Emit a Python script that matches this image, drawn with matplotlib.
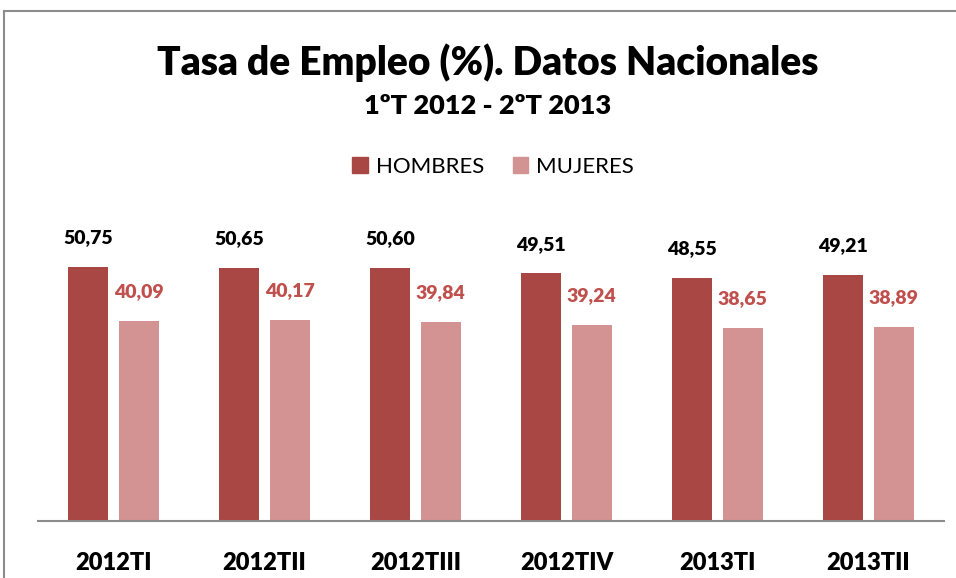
import matplotlib
matplotlib.use("Agg")
import matplotlib.pyplot as plt
from matplotlib.lines import Line2D
from matplotlib.patches import Rectangle
import numpy as np

categories = ["2012TI", "2012TII", "2012TIII", "2012TIV", "2013TI", "2013TII"]
hombres = [50.75, 50.65, 50.60, 49.51, 48.55, 49.21]
mujeres = [40.09, 40.17, 39.84, 39.24, 38.65, 38.89]
series_names = ["HOMBRES", "MUJERES"]

c_h = "#A94744"
c_m = "#D39393"
c_lab_m = "#C0504D"
FONT = "Lato"

W, H = 956, 578
fig = plt.figure(figsize=(W / 100, H / 100), dpi=100)
fig.patch.set_facecolor("white")

def fx(px):
    return px / W

def fy(py):
    return 1 - py / H

# frame lines (top and left)
fig.add_artist(Line2D([fx(4), fx(956)], [fy(11), fy(11)], color="#8C8C8C", lw=1.5))
fig.add_artist(Line2D([fx(4), fx(4)], [fy(11), fy(578)], color="#8C8C8C", lw=1.5))

ax_left, ax_right = 38, 944
ax_bottom, ax_top = 521, 221
ax = fig.add_axes([fx(ax_left), fy(ax_bottom), fx(ax_right - ax_left), (ax_bottom - ax_top) / H])
x = np.arange(len(categories))
bw = 0.265
off = 0.166
ax.bar(x - off, hombres, bw, color=c_h)
ax.bar(x + off, mujeres, bw, color=c_m)
ax.set_xlim(-0.5, len(categories) - 0.5)
ax.set_ylim(0, 60)
for s in ["top", "right", "left"]:
    ax.spines[s].set_visible(False)
ax.spines["bottom"].set_color("#8C8C8C")
ax.spines["bottom"].set_linewidth(1.5)
ax.set_yticks([])
ax.set_xticks(x)
ax.set_xticklabels(categories, fontsize=17, fontweight="heavy", family=FONT)
ax.tick_params(axis="x", length=0, pad=22)

for xi, v in zip(x, hombres):
    ax.annotate(f"{v:.2f}".replace(".", ","), (xi - off, v), xytext=(0, 15),
                textcoords="offset points", ha="center", va="bottom",
                fontsize=14, fontweight="heavy", family=FONT, color="black")
for xi, v in zip(x, mujeres):
    ax.annotate(f"{v:.2f}".replace(".", ","), (xi + off, v), xytext=(0, 15),
                textcoords="offset points", ha="center", va="bottom",
                fontsize=14, fontweight="heavy", family=FONT, color=c_lab_m)

fig.text(fx(488), fy(63), "Tasa de Empleo (%). Datos Nacionales", ha="center", va="center",
         fontsize=28, fontweight="heavy", family=FONT)
fig.text(fx(488), fy(106), "1ºT 2012 - 2ºT 2013", ha="center", va="center",
         fontsize=19.5, fontweight="heavy", family=FONT)

# legend
fig.legend([Rectangle((0, 0), 1, 1, color=c_h), Rectangle((0, 0), 1, 1, color=c_m)],
           series_names, loc="center", bbox_to_anchor=(fx(493), fy(167)), ncol=2,
           frameon=False, prop={"family": FONT, "size": 16},
           handlelength=0.7, handleheight=0.7, handletextpad=0.35, columnspacing=1.3)

fig.savefig("out.png", dpi=100, facecolor="white")
